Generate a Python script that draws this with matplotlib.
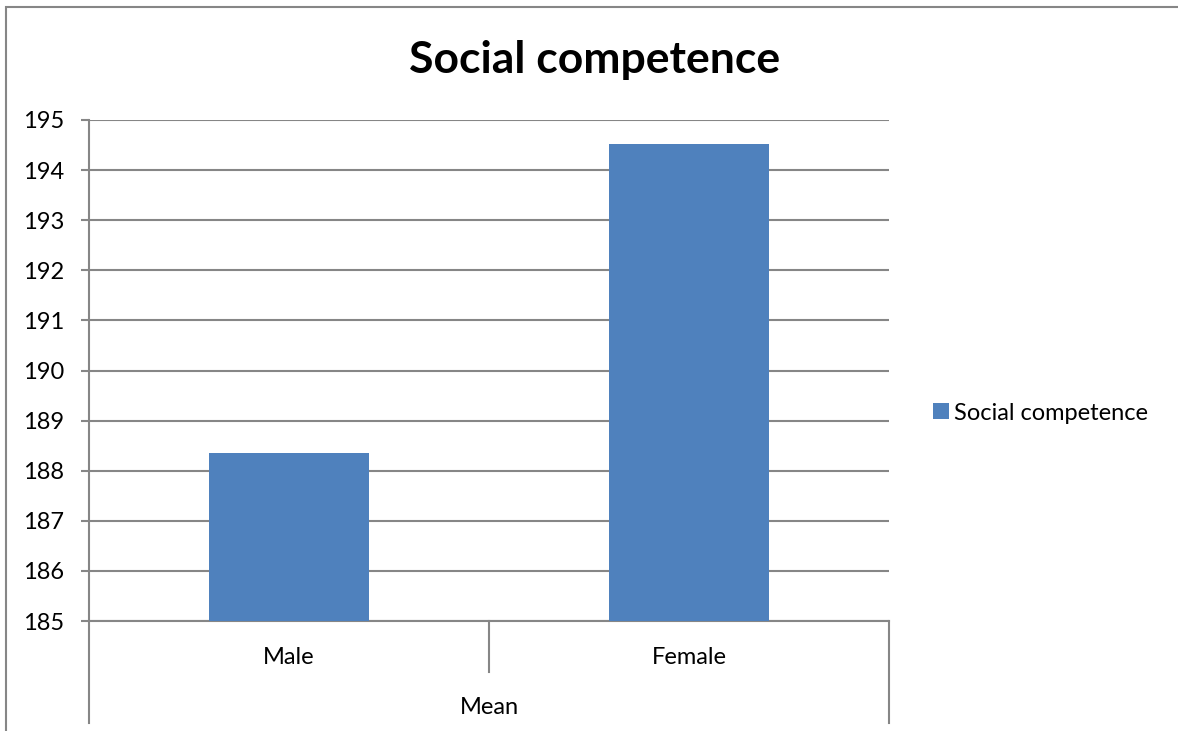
import matplotlib.pyplot as plt
from matplotlib.lines import Line2D
from matplotlib.patches import Rectangle

plt.rcParams['font.family'] = ['Lato', 'DejaVu Sans']
plt.rcParams['font.size'] = 17

# data
categories = ['Male', 'Female']
group_label = 'Mean'
series_name = 'Social competence'
values = [188.35, 194.52]
y_ticks = list(range(185, 196))

bar_color = '#4F81BD'
grid_color = '#868686'

fig = plt.figure(figsize=(11.78, 7.31), dpi=100)
ax = fig.add_axes([89 / 1178, 1 - 621 / 731, 800 / 1178, 501 / 731])

ax.bar(range(len(categories)), values, width=0.4, color=bar_color,
       label=series_name, zorder=3)

ax.set_xlim(-0.5, len(categories) - 0.5)
ax.set_ylim(185, 195)
ax.set_yticks(y_ticks)
ax.tick_params(axis='y', direction='out', length=6, width=1.5, color=grid_color,
               labelsize=17, pad=12)
ax.set_xticks([])
ax.grid(axis='y', color=grid_color, linewidth=1.5, zorder=0)

for side in ['top', 'right']:
    ax.spines[side].set_visible(False)
for side in ['left', 'bottom']:
    ax.spines[side].set_color(grid_color)
    ax.spines[side].set_linewidth(1.5)

# multi-level category axis below the plot
px = 1 / 501
ax.add_line(Line2D([0, 0], [0, -102 * px], transform=ax.transAxes,
                   color=grid_color, lw=1.5, clip_on=False))
ax.add_line(Line2D([1, 1], [0, -102 * px], transform=ax.transAxes,
                   color=grid_color, lw=1.5, clip_on=False))
ax.add_line(Line2D([0.5, 0.5], [0, -51 * px], transform=ax.transAxes,
                   color=grid_color, lw=1.5, clip_on=False))
for i, cat in enumerate(categories):
    ax.text((i + 0.5) / len(categories), -36 * px, cat, transform=ax.transAxes,
            ha='center', va='center', fontsize=17)
ax.text(0.5, -86 * px, group_label, transform=ax.transAxes,
        ha='center', va='center', fontsize=17)

fig.text(595 / 1178, 1 - 60 / 731, 'Social competence', ha='center', va='center',
         fontsize=32, fontweight='bold')

leg = fig.legend(loc='center left', bbox_to_anchor=(912 / 1178, 1 - 413 / 731),
                 frameon=False, fontsize=17, handlelength=0.65, handleheight=0.65,
                 handletextpad=0.25)

# chart border
fig.patches.append(Rectangle((6 / 1178, -0.1), 1.2, 1 - 7 / 731 + 0.1,
                             transform=fig.transFigure, fill=False,
                             edgecolor=grid_color, linewidth=1.5))

fig.savefig('out.png', dpi=100)
